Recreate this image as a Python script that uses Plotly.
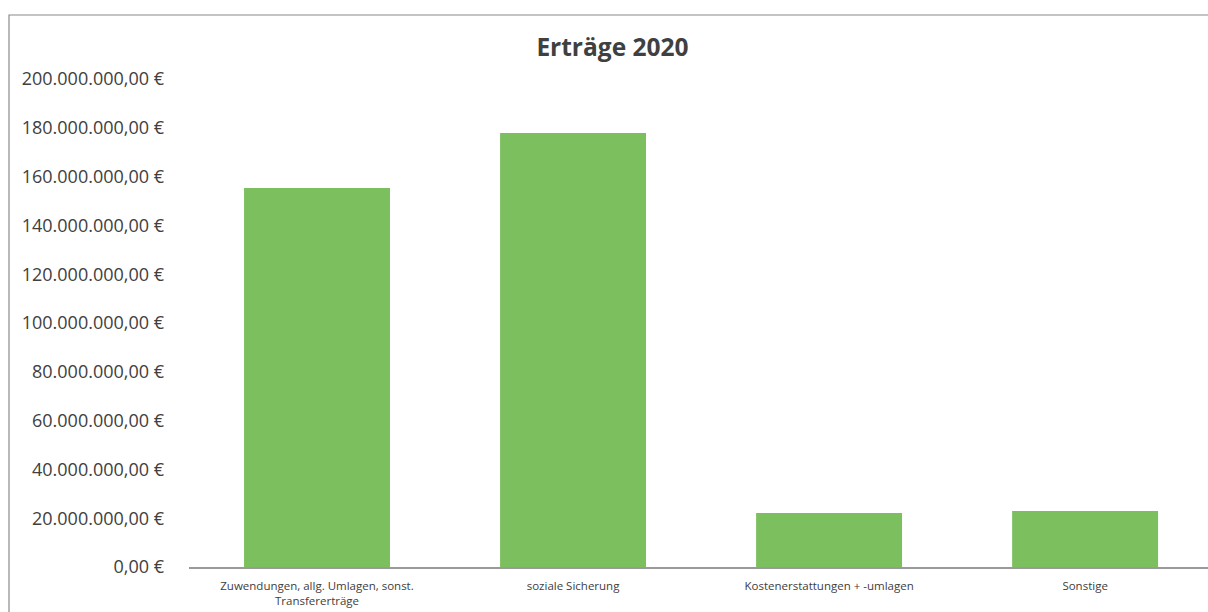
import plotly.graph_objects as go

# Ertragsarten 2020 (in Euro)
categories = [
    "Zuwendungen, allg. Umlagen, sonst.<br>Transfererträge",
    "soziale Sicherung",
    "Kostenerstattungen + -umlagen",
    "Sonstige",
]
values = [155_300_000, 177_900_000, 22_100_000, 23_000_000]

tick_values = list(range(0, 200_000_001, 20_000_000))
tick_labels = [f"{v:,.2f}".replace(",", "X").replace(".", ",").replace("X", ".") + " €"
               for v in tick_values]

BAR_COLOR = "#7BBF5E"
TEXT_COLOR = "#404040"
FONT = "'Open Sans', 'Noto Sans', sans-serif"

fig = go.Figure(
    go.Bar(
        x=list(range(len(categories))),
        y=values,
        marker=dict(color=BAR_COLOR, line=dict(width=0)),
        width=0.57,
    )
)

fig.update_layout(
    width=1208,
    height=612,
    margin=dict(l=189, r=0, t=79, b=45),
    paper_bgcolor="white",
    plot_bgcolor="white",
    showlegend=False,
    font=dict(family=FONT, color=TEXT_COLOR),
    title=dict(
        text="<b>Erträge 2020</b>",
        x=0.507,
        xanchor="center",
        y=1 - 47 / 612,
        yanchor="middle",
        font=dict(size=24.5, color=TEXT_COLOR, family=FONT),
    ),
    xaxis=dict(
        range=[-0.5, 3.48],
        tickmode="array",
        tickvals=list(range(len(categories))),
        ticktext=categories,
        tickfont=dict(size=11.5, color=TEXT_COLOR),
        showgrid=False,
        showline=True,
        linecolor="#9a9a9a",
        linewidth=1.5,
        ticks="",
        zeroline=False,
        ticklabelstandoff=7,
        automargin=False,
    ),
    yaxis=dict(
        range=[0, 200_000_000],
        tickmode="array",
        tickvals=tick_values,
        ticktext=tick_labels,
        tickfont=dict(size=18, color=TEXT_COLOR),
        showgrid=False,
        zeroline=False,
        showline=False,
        ticks="",
        ticklabelstandoff=24,
        automargin=False,
    ),
    shapes=[
        dict(
            type="rect",
            xref="paper",
            yref="paper",
            x0=(9 - 189) / 1019,
            x1=1.05,
            y0=-0.2,
            y1=(567 - 15) / 488,
            line=dict(color="#8a8a8a", width=1.2),
            fillcolor="rgba(0,0,0,0)",
            layer="below",
        )
    ],
)

fig.write_html("out.html")
